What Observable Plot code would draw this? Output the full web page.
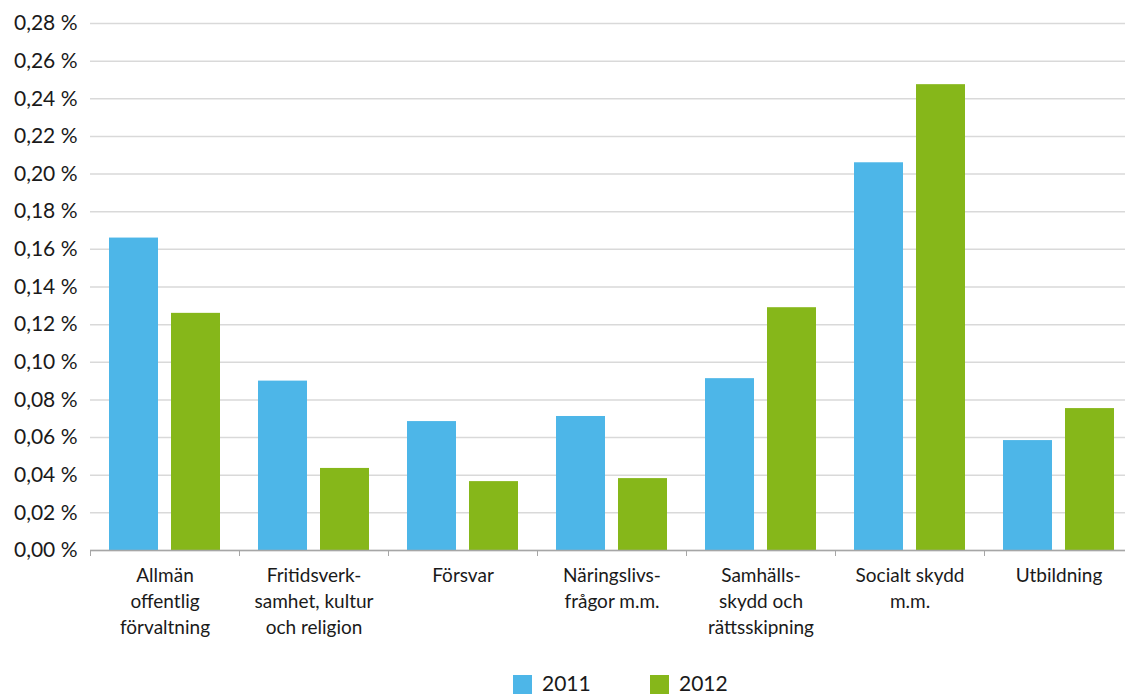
<!DOCTYPE html>
<html><head><meta charset="utf-8">
<script src="https://cdn.jsdelivr.net/npm/d3@7"></script>
<script src="https://cdn.jsdelivr.net/npm/@observablehq/plot@0.6"></script>
<style>
html,body{margin:0;padding:0;background:#fff;overflow:hidden;width:1125px;height:695px;position:relative}
#chart svg{display:block;max-width:none !important}
.legend{position:absolute;top:673px;left:513px;display:flex;font-family:Lato,sans-serif;font-size:21px;color:#1a1a1a;line-height:20px}
.legend .item{display:flex;align-items:flex-start;width:137px}
.legend .sw{width:19px;height:19px;margin-top:2px;margin-right:10px}
</style></head><body>
<div id="chart"></div>
<div class="legend" id="legend"></div>
<script>
const categories = ["Allmän\noffentlig\nförvaltning", "Fritidsverk-\nsamhet, kultur\noch religion", "Försvar", "Näringslivs-\nfrågor m.m.", "Samhälls-\nskydd och\nrättsskipning", "Socialt skydd\nm.m.", "Utbildning"];
const years = ["2011", "2012"];
const values2011 = [0.166, 0.090, 0.0685, 0.0712, 0.0913, 0.206, 0.0584];
const values2012 = [0.126, 0.0436, 0.0366, 0.0382, 0.129, 0.2475, 0.0754];
const colors = ["#4db6e8", "#86b71a"];
const yTicks = [0, 0.02, 0.04, 0.06, 0.08, 0.10, 0.12, 0.14, 0.16, 0.18, 0.20, 0.22, 0.24, 0.26, 0.28];

const data = [];
categories.forEach((c, i) => {
  data.push({category: c, year: years[0], value: values2011[i]});
  data.push({category: c, year: years[1], value: values2012[i]});
});

const chart = Plot.plot({
  width: 1133, height: 655,
  marginLeft: 90, marginRight: 0, marginTop: 23, marginBottom: 105,
  style: {fontFamily: "Lato, sans-serif", color: "#1a1a1a", background: "white", overflow: "visible"},
  fx: {domain: categories, padding: 0, label: null},
  x: {domain: years, paddingInner: 0.21, paddingOuter: 0.306, axis: null},
  y: {domain: [0, 0.28], label: null},
  color: {domain: years, range: colors},
  marks: [
    Plot.gridY(yTicks, {stroke: "#d9d9d9", strokeOpacity: 1, strokeWidth: 1.5}),
    Plot.axisY(yTicks, {tickSize: 0, tickPadding: 13, fontSize: 21, tickFormat: d => d.toFixed(2).replace(".", ",") + " %", label: null}),
    Plot.barY(data, {fx: "category", x: "year", y: "value", fill: "year"}),
    Plot.ruleY([0], {stroke: "#a6a6a6", strokeWidth: 1.5}),
    Plot.axisFx({anchor: "bottom", tickSize: 0, tickPadding: 13, fontSize: 19, lineHeight: 1.37, label: null}),
    Plot.axisFx({anchor: "bottom", text: null, tickSize: 6, dx: -74.5, stroke: "#a6a6a6", label: null})
  ]
});
document.getElementById("chart").appendChild(chart);

const legend = document.getElementById("legend");
years.forEach((y, i) => {
  const item = document.createElement("div");
  item.className = "item";
  const sw = document.createElement("div");
  sw.className = "sw";
  sw.style.background = colors[i];
  const t = document.createElement("span");
  t.textContent = y;
  item.appendChild(sw); item.appendChild(t);
  legend.appendChild(item);
});
</script>
</body></html>
